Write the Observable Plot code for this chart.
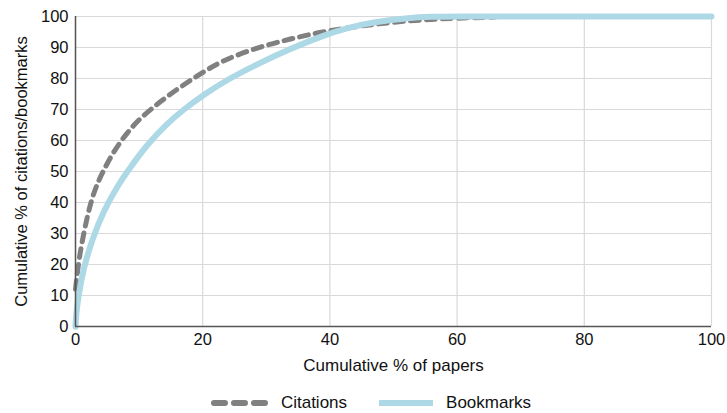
<!DOCTYPE html>
<html>
<head>
<meta charset="utf-8">
<script src="https://cdn.jsdelivr.net/npm/d3@7"></script>
<script src="https://cdn.jsdelivr.net/npm/@observablehq/plot@0.6"></script>
<style>
  body { margin: 0; background: #fff; font-family: "Liberation Sans", Arial, sans-serif; }
  #legend { display: flex; justify-content: center; align-items: center; height: 28px; padding-top: 4px; font-size: 17px; color: #111; margin-left: 14px; }
  #legend .item { display: flex; align-items: center; margin: 0 14px; }
  #legend svg { margin-right: 9px; }
</style>
</head>
<body>
<div id="chart"></div>
<div id="legend"></div>
<script>
const citationsX = [0, 0.5, 1.05, 1.8, 2.6, 3.5, 4.45, 6, 8.1, 10.2, 13.4, 16.5, 20, 23.3, 28.6, 33.8, 39, 45, 50, 55, 60, 66];
const citationsY = [12, 21, 27.5, 35, 41.5, 46.5, 50.5, 56.5, 62.5, 67.3, 72.7, 77.3, 82, 86, 90, 92.8, 95.2, 97, 98.2, 99, 99.5, 99.8];
const bookmarksX = [0, 0.1, 0.5, 1.3, 2.6, 4.45, 6.8, 8.5, 11.3, 14.4, 17, 20, 23.3, 28.6, 33.8, 39, 42.7, 47, 52, 56, 60, 70, 80, 90, 100];
const bookmarksY = [0, 4, 10.5, 19, 28, 37.5, 46, 51, 58.8, 65.5, 70, 74.5, 79, 84.7, 89.6, 93.9, 96.3, 98.3, 99.5, 100, 100, 100, 100, 100, 100];
const xTicks = [0, 20, 40, 60, 80, 100];
const yTicks = [0, 10, 20, 30, 40, 50, 60, 70, 80, 90, 100];
const seriesNames = ["Citations", "Bookmarks"];

const citations = citationsX.map((x, i) => ({x, y: citationsY[i]}));
const bookmarks = bookmarksX.map((x, i) => ({x, y: bookmarksY[i]}));

const gray = "#808080", blue = "#add8e6";

const chart = Plot.plot({
  width: 727,
  height: 385,
  marginLeft: 75,
  marginRight: 16,
  marginTop: 16,
  marginBottom: 59,
  style: {fontFamily: '"Liberation Sans", Arial, sans-serif', fontSize: "16.5px", color: "#111"},
  x: {domain: [0, 100]},
  y: {domain: [0, 100]},
  marks: [
    Plot.gridX(xTicks, {stroke: "#d9d9d9", strokeOpacity: 1, strokeWidth: 1.2}),
    Plot.gridY(yTicks, {stroke: "#d9d9d9", strokeOpacity: 1, strokeWidth: 1.2}),
    Plot.axisX(xTicks, {tickSize: 0, tickPadding: 7, label: null, fontSize: 16.5}),
    Plot.axisX({ticks: [], tickSize: 0, label: "Cumulative % of papers", labelAnchor: "center", labelArrow: "none", labelOffset: 44, fontSize: 17}),
    Plot.axisY(yTicks, {tickSize: 0, tickPadding: 7, label: "Cumulative % of citations/bookmarks", labelAnchor: "center", labelArrow: "none", labelOffset: 60, fontSize: 16.5}),
    Plot.line(citations, {x: "x", y: "y", curve: "basis", stroke: gray, strokeWidth: 5, strokeDasharray: "9,7", strokeLinecap: "round"}),
    Plot.line(bookmarks, {x: "x", y: "y", curve: "basis", stroke: blue, strokeWidth: 6}),
    Plot.ruleX([0], {stroke: "#555", strokeWidth: 1.5}),
    Plot.ruleY([0], {stroke: "#555", strokeWidth: 1.5})
  ]
});
document.getElementById("chart").appendChild(chart);

const legend = d3.select("#legend");
const styles = [{stroke: gray, dash: "11,9"}, {stroke: blue, dash: null}];
seriesNames.forEach((name, i) => {
  const item = legend.append("div").attr("class", "item");
  const s = item.append("svg").attr("width", 62).attr("height", 12);
  const l = s.append("line").attr("x1", 4).attr("x2", 58).attr("y1", 6).attr("y2", 6)
    .attr("stroke", styles[i].stroke).attr("stroke-width", 6);
  if (styles[i].dash) l.attr("stroke-dasharray", styles[i].dash).attr("stroke-linecap", "round");
  item.append("span").text(name);
});
</script>
</body>
</html>
